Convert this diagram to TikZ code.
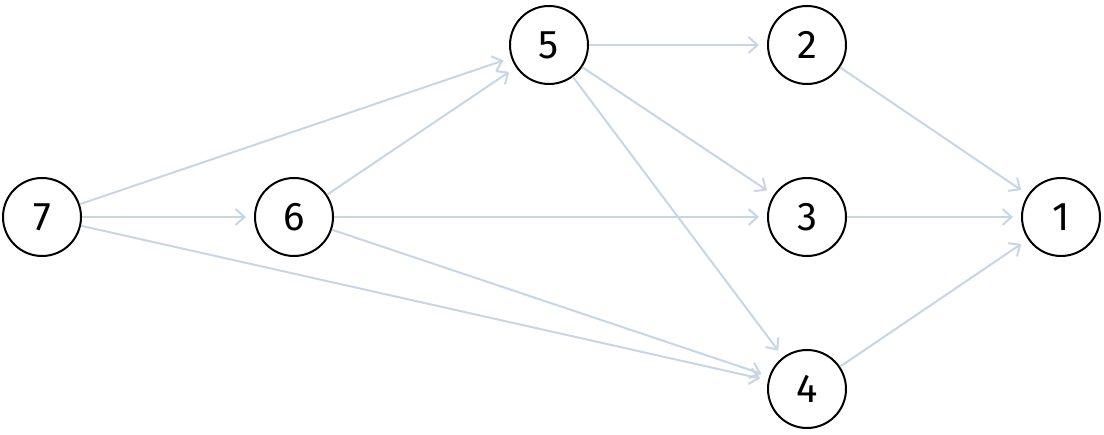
\documentclass[tikz,border=0pt]{standalone}
\usepackage{fontspec}
\setmainfont{Fira Sans}
\usetikzlibrary{arrows.meta}
\definecolor{edgec}{RGB}{200,213,228}
\begin{document}
\begin{tikzpicture}[x=1pt,y=-1pt,
  vert/.style={circle,draw=black,line width=2pt,minimum size=78pt,inner sep=0pt,font=\fontsize{40}{40}\selectfont},
  edge/.style={draw=edgec,line width=2pt,-{Straight Barb[length=9pt,width=16pt]},shorten >=8pt}]
\useasboundingbox (0,0) rectangle (1104,435);
\node[vert] (n7) at (42,217) {7};
\node[vert] (n6) at (294,217) {6};
\node[vert] (n5) at (549,45) {5};
\node[vert] (n2) at (807,45) {2};
\node[vert] (n3) at (807,217) {3};
\node[vert] (n1) at (1061,217) {1};
\node[vert] (n4) at (807,389) {4};
\draw[edge] (n7) -- (n6);
\draw[edge] (n7) -- (n5);
\draw[edge] (n7) -- (n4);
\draw[edge] (n6) -- (n5);
\draw[edge] (n6) -- (n3);
\draw[edge] (n6) -- (n4);
\draw[edge] (n5) -- (n2);
\draw[edge] (n5) -- (n3);
\draw[edge] (n5) -- (n4);
\draw[edge] (n2) -- (n1);
\draw[edge] (n3) -- (n1);
\draw[edge] (n4) -- (n1);
\end{tikzpicture}
\end{document}
